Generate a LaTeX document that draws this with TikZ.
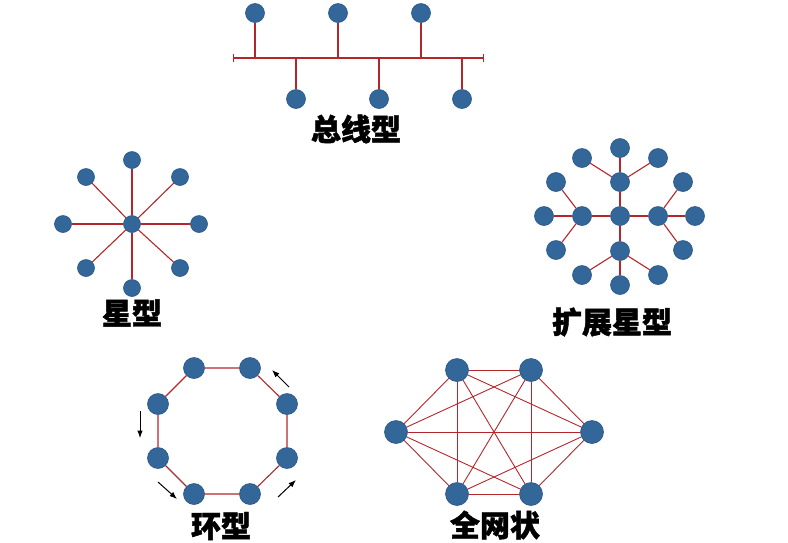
\documentclass[tikz,border=0pt]{standalone}
\usepackage{fontspec}
\usepackage{tikz}
\usetikzlibrary{arrows.meta,calc,positioning}
\newfontfamily\cjk{Noto Sans CJK SC}[BoldFeatures={FakeBold=1.5}]
\definecolor{nodeblue}{HTML}{336699}
\definecolor{nodeedge}{HTML}{2A5685}
\definecolor{linkred}{HTML}{B3272C}
\definecolor{ink}{HTML}{000000}
\tikzset{
  host/.style={circle,fill=nodeblue,draw=nodeedge,line width=0.6pt,inner sep=0pt,minimum size=#1},
  host/.default=19pt,
  link/.style={linkred,line width=1.1pt},
  title/.style={font=\cjk\bfseries\fontsize{30}{30}\selectfont,text=ink,inner sep=0pt},
  flow/.style={->,ink,line width=1pt}
}
\begin{document}
\begin{tikzpicture}[>=Latex,x=1pt,y=-1pt]
\useasboundingbox (0,0) rectangle (788,542);
% bus
\coordinate (busL) at (233,58);
\coordinate (busR) at (484,58);
\draw[link,{Bar[width=8pt]}-{Bar[width=8pt]}] (busL)--(busR);
\node[host] (bt1) at (255,13) {};
\node[host] (bt2) at (338,13) {};
\node[host] (bt3) at (421,13) {};
\node[host] (bb1) at (296,99) {};
\node[host] (bb2) at (379,99) {};
\node[host] (bb3) at (462,99) {};
\foreach \n in {bt1,bt2,bt3,bb1,bb2,bb3}
  \draw[link] (\n)--(\n |- busL);
\node[title] (busname) at (356,129) {总线型};
% star
\node[host=17pt] (sc) at (132,224) {};
\node[host=17pt] (s1) at (132,160) {};
\node[host=17pt] (s2) at (180,177) {};
\node[host=17pt] (s3) at (199,224) {};
\node[host=17pt] (s4) at (180,268) {};
\node[host=17pt] (s5) at (132,288) {};
\node[host=17pt] (s6) at (86,268) {};
\node[host=17pt] (s7) at (63,224) {};
\node[host=17pt] (s8) at (86,177) {};
\foreach \n in {s1,s2,s3,s4,s5,s6,s7,s8}
  \draw[link] (sc)--(\n);
\node[title] (starname) at (132,313) {星型};
% extended star
\node[host] (ec) at (620,216) {};
\node[host] (eu) at (620,182) {};
\node[host] (ed) at (620,251) {};
\node[host] (el) at (582,216) {};
\node[host] (er) at (658,216) {};
\node[host] (eu1) at (582,158) {};
\node[host] (eu2) at (620,148) {};
\node[host] (eu3) at (658,158) {};
\node[host] (el1) at (556,182) {};
\node[host] (el2) at (544,216) {};
\node[host] (el3) at (556,250) {};
\node[host] (er1) at (683,182) {};
\node[host] (er2) at (695,216) {};
\node[host] (er3) at (683,250) {};
\node[host] (ed1) at (582,275) {};
\node[host] (ed2) at (620,285) {};
\node[host] (ed3) at (658,275) {};
\foreach \h in {eu,ed,el,er}
  \draw[link] (ec)--(\h);
\foreach \h in {eu,ed,el,er}
  \foreach \k in {1,2,3}
    \draw[link] (\h)--(\h\k);
\node[title] (extname) at (612,322) {扩展星型};
% ring
\node[host=21pt] (r1) at (194,368) {};
\node[host=21pt] (r2) at (250,368) {};
\node[host=21pt] (r3) at (287,404) {};
\node[host=21pt] (r4) at (287,458) {};
\node[host=21pt] (r5) at (250,494) {};
\node[host=21pt] (r6) at (194,494) {};
\node[host=21pt] (r7) at (158,458) {};
\node[host=21pt] (r8) at (158,404) {};
\draw[link] (r1)--(r2)--(r3)--(r4)--(r5)--(r6)--(r7)--(r8)--(r1);
\coordinate (aL1) at (140,411);
\coordinate (aL2) at (140,438);
\coordinate (aB1) at (158,482);
\coordinate (aB2) at (177,499);
\coordinate (aR1) at (278,497);
\coordinate (aR2) at (296,480);
\coordinate (aT1) at (289,387);
\coordinate (aT2) at (272,370);
\draw[flow] (aL1)--(aL2);
\draw[flow] (aB1)--(aB2);
\draw[flow] (aR1)--(aR2);
\draw[flow] (aT1)--(aT2);
\node[title] (ringname) at (221,526) {环型};
% full mesh
\node[host=23pt] (m1) at (457,370) {};
\node[host=23pt] (m2) at (531,370) {};
\node[host=23pt] (m3) at (592,432) {};
\node[host=23pt] (m4) at (531,494) {};
\node[host=23pt] (m5) at (457,494) {};
\node[host=23pt] (m6) at (396,432) {};
\begin{scope}[on background layer/.try]
\foreach \a/\b in {m1/m2,m1/m3,m1/m4,m1/m5,m1/m6,m2/m3,m2/m4,m2/m5,m2/m6,m3/m4,m3/m5,m3/m6,m4/m5,m4/m6,m5/m6}
  \draw[link,line width=0.9pt] (\a)--(\b);
\end{scope}
\node[title] (meshname) at (495,525) {全网状};
\end{tikzpicture}
\end{document}
